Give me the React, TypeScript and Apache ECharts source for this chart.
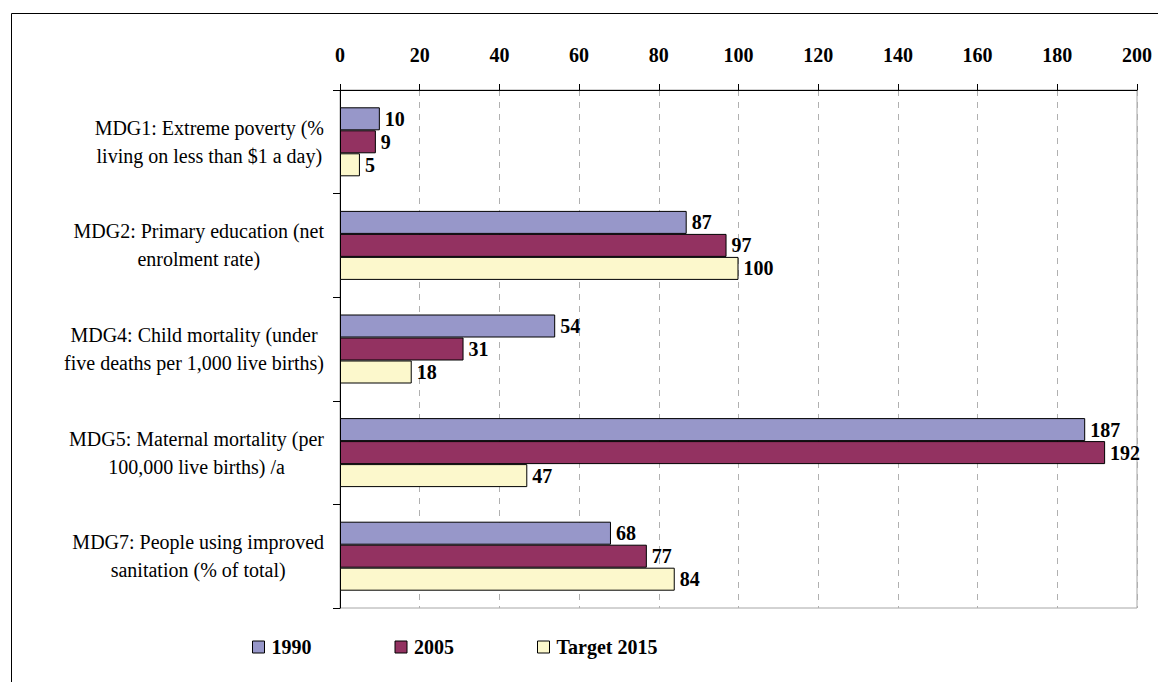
import React, { useEffect, useRef } from "react";
import * as echarts from "echarts";

const categories = [
  "MDG1: Extreme poverty (%\nliving on less than $1 a day)",
  "MDG2: Primary education (net\nenrolment rate)",
  "MDG4: Child mortality (under\nfive deaths per 1,000 live births)",
  "MDG5: Maternal mortality (per\n100,000 live births) /a",
  "MDG7: People using improved\nsanitation (% of total)",
];
const values1990 = [10, 87, 54, 187, 68];
const values2005 = [9, 97, 31, 192, 77];
const valuesTarget2015 = [5, 100, 18, 47, 84];
const seriesNames = ["1990", "2005", "Target 2015"];
const seriesColors = ["#9797c9", "#933261", "#fcf8cc"];

const FONT = "'Liberation Serif', 'Times New Roman', 'DejaVu Serif', serif";

export default function App() {
  const ref = useRef<HTMLDivElement>(null);

  useEffect(() => {
    document.body.style.margin = "0";
    const chart = echarts.init(ref.current!, undefined, { renderer: "svg" });
    const seriesData = [values1990, values2005, valuesTarget2015];
    chart.setOption({
      animation: false,
      backgroundColor: "#ffffff",
      textStyle: { fontFamily: FONT },
      graphic: [
        {
          type: "rect",
          shape: { x: 11.5, y: 13.5, width: 1200, height: 720 },
          style: { fill: "none", stroke: "#000", lineWidth: 1 },
          silent: true,
          z: 0,
        },
      ],
      legend: {
        left: 247,
        top: 632,
        itemGap: 83,
        itemWidth: 12,
        itemHeight: 12,
        icon: "rect",
        textStyle: {
          fontFamily: FONT,
          fontSize: 20,
          lineHeight: 20,
          fontWeight: "bold",
          color: "#000",
          padding: [0, 0, 0, 2],
        },
        itemStyle: { borderColor: "#000", borderWidth: 1 },
        data: seriesNames,
      },
      grid: {
        left: 340,
        right: 21,
        top: 90,
        bottom: 74,
        show: true,
        borderColor: "#a6a6a6",
        borderWidth: 1,
        containLabel: false,
      },
      xAxis: {
        type: "value",
        position: "top",
        min: 0,
        max: 200,
        interval: 20,
        axisLine: { show: true, lineStyle: { color: "#000", width: 1 } },
        axisTick: { show: true, length: 6, lineStyle: { color: "#000" } },
        axisLabel: {
          margin: 25,
          fontFamily: FONT,
          fontSize: 20,
          fontWeight: "bold",
          color: "#000",
        },
        splitLine: {
          show: true,
          lineStyle: { color: "#b0b0b0", type: [6, 6], width: 1 },
        },
      },
      yAxis: {
        type: "category",
        inverse: true,
        data: categories,
        axisLine: { show: true, lineStyle: { color: "#000", width: 1 } },
        axisTick: { show: true, length: 7, lineStyle: { color: "#000" } },
        axisLabel: {
          align: "right",
          margin: 16,
          fontFamily: FONT,
          fontSize: 20,
          lineHeight: 28,
          color: "#000",
          // each line centred inside the right-aligned label block
          formatter: (value: string) =>
            value
              .split("\n")
              .map((line) => `{c|${line}}`)
              .join("\n"),
          rich: {
            c: {
              align: "center",
              fontFamily: FONT,
              fontSize: 20,
              lineHeight: 28,
              color: "#000",
            },
          },
        },
        splitLine: { show: false },
      },
      series: seriesNames.map((name, i) => ({
        name,
        type: "bar",
        data: seriesData[i],
        barWidth: 23,
        barGap: "0%",
        itemStyle: {
          color: seriesColors[i],
          borderColor: "#000",
          borderWidth: 1,
        },
        label: {
          show: true,
          position: "right",
          distance: 5,
          fontFamily: FONT,
          fontSize: 20,
          fontWeight: "bold",
          color: "#000",
        },
      })),
    });
    return () => chart.dispose();
  }, []);

  return <div ref={ref} style={{ width: 1158, height: 682 }} />;
}
